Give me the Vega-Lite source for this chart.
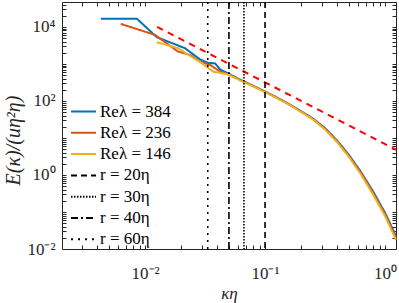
{
  "$schema": "https://vega.github.io/schema/vega-lite/v6.json",
  "width": 334,
  "height": 247,
  "autosize": {"type": "none"},
  "padding": {"left": 62, "top": 2, "right": 3, "bottom": 54},
  "background": "white",
  "config": {
    "view": {"stroke": null},
    "font": "Liberation Serif",
    "legend": {"labelFont": "Liberation Serif", "labelFontSize": 17, "labelColor": "#000000"},
    "axis": {
      "grid": false,
      "domainColor": "#262626",
      "domainWidth": 1,
      "tickColor": "#262626",
      "tickWidth": 1,
      "tickSize": -4,
      "labelColor": "#262626",
      "titleColor": "#262626",
      "labelFont": "Liberation Serif",
      "labelFontSize": 17,
      "titleFont": "Liberation Serif",
      "titleFontSize": 17,
      "titleFontWeight": "normal",
      "labelOverlap": false,
      "labelFlush": false
    }
  },
  "datasets": {
    "spectra": [
      {"k": 0.00428, "E": 16700, "s": "Reλ = 384"},
      {"k": 0.00853, "E": 16700, "s": "Reλ = 384"},
      {"k": 0.01252, "E": 5270, "s": "Reλ = 384"},
      {"k": 0.0215, "E": 2655, "s": "Reλ = 384"},
      {"k": 0.0287, "E": 1324, "s": "Reλ = 384"},
      {"k": 0.0335, "E": 1064, "s": "Reλ = 384"},
      {"k": 0.0383, "E": 1031, "s": "Reλ = 384"},
      {"k": 0.0422, "E": 710, "s": "Reλ = 384"},
      {"k": 0.0492, "E": 553, "s": "Reλ = 384"},
      {"k": 0.0631, "E": 366, "s": "Reλ = 384"},
      {"k": 0.0794, "E": 257, "s": "Reλ = 384"},
      {"k": 0.1, "E": 180, "s": "Reλ = 384"},
      {"k": 0.1259, "E": 123, "s": "Reλ = 384"},
      {"k": 0.1585, "E": 82.5, "s": "Reλ = 384"},
      {"k": 0.1995, "E": 52.8, "s": "Reλ = 384"},
      {"k": 0.2512, "E": 33.3, "s": "Reλ = 384"},
      {"k": 0.3162, "E": 18.4, "s": "Reλ = 384"},
      {"k": 0.3981, "E": 8.55, "s": "Reλ = 384"},
      {"k": 0.5012, "E": 3.45, "s": "Reλ = 384"},
      {"k": 0.631, "E": 1.2, "s": "Reλ = 384"},
      {"k": 0.794, "E": 0.362, "s": "Reλ = 384"},
      {"k": 1.0, "E": 0.0955, "s": "Reλ = 384"},
      {"k": 1.235, "E": 0.0224, "s": "Reλ = 384"},

      {"k": 0.00627, "E": 12050, "s": "Reλ = 236"},
      {"k": 0.0121, "E": 6080, "s": "Reλ = 236"},
      {"k": 0.01884, "E": 2148, "s": "Reλ = 236"},
      {"k": 0.0237, "E": 1750, "s": "Reλ = 236"},
      {"k": 0.0287, "E": 1153, "s": "Reλ = 236"},
      {"k": 0.0349, "E": 940, "s": "Reλ = 236"},
      {"k": 0.0422, "E": 620, "s": "Reλ = 236"},
      {"k": 0.0482, "E": 537, "s": "Reλ = 236"},
      {"k": 0.0631, "E": 358, "s": "Reλ = 236"},
      {"k": 0.0794, "E": 252, "s": "Reλ = 236"},
      {"k": 0.1, "E": 177, "s": "Reλ = 236"},
      {"k": 0.1259, "E": 121, "s": "Reλ = 236"},
      {"k": 0.1585, "E": 80.7, "s": "Reλ = 236"},
      {"k": 0.1995, "E": 51.5, "s": "Reλ = 236"},
      {"k": 0.2512, "E": 32.4, "s": "Reλ = 236"},
      {"k": 0.3162, "E": 17.6, "s": "Reλ = 236"},
      {"k": 0.3981, "E": 8.13, "s": "Reλ = 236"},
      {"k": 0.5012, "E": 3.24, "s": "Reλ = 236"},
      {"k": 0.631, "E": 1.12, "s": "Reλ = 236"},
      {"k": 0.794, "E": 0.331, "s": "Reλ = 236"},
      {"k": 1.0, "E": 0.0871, "s": "Reλ = 236"},
      {"k": 1.235, "E": 0.020, "s": "Reλ = 236"},

      {"k": 0.01252, "E": 3857, "s": "Reλ = 146"},
      {"k": 0.01884, "E": 2655, "s": "Reλ = 146"},
      {"k": 0.0237, "E": 1644, "s": "Reλ = 146"},
      {"k": 0.0287, "E": 1133, "s": "Reλ = 146"},
      {"k": 0.0369, "E": 620, "s": "Reλ = 146"},
      {"k": 0.0492, "E": 522, "s": "Reλ = 146"},
      {"k": 0.0631, "E": 350, "s": "Reλ = 146"},
      {"k": 0.0794, "E": 248, "s": "Reλ = 146"},
      {"k": 0.1, "E": 174, "s": "Reλ = 146"},
      {"k": 0.1259, "E": 119, "s": "Reλ = 146"},
      {"k": 0.1585, "E": 79.5, "s": "Reλ = 146"},
      {"k": 0.1995, "E": 50.5, "s": "Reλ = 146"},
      {"k": 0.2512, "E": 31.6, "s": "Reλ = 146"},
      {"k": 0.3162, "E": 16.9, "s": "Reλ = 146"},
      {"k": 0.3981, "E": 7.75, "s": "Reλ = 146"},
      {"k": 0.5012, "E": 3.05, "s": "Reλ = 146"},
      {"k": 0.631, "E": 1.03, "s": "Reλ = 146"},
      {"k": 0.794, "E": 0.30, "s": "Reλ = 146"},
      {"k": 1.0, "E": 0.078, "s": "Reλ = 146"},
      {"k": 1.235, "E": 0.0178, "s": "Reλ = 146"}
    ],
    "slope": [
      {"k": 0.0126, "E": 10000},
      {"k": 1.235, "E": 4.8}
    ],
    "rules": [
      {"k": 0.1, "s": "r = 20η"},
      {"k": 0.0667, "s": "r = 30η"},
      {"k": 0.05, "s": "r = 40η"},
      {"k": 0.0333, "s": "r = 60η"}
    ]
  },
  "layer": [
    {
      "data": {"name": "spectra"},
      "mark": {"type": "line", "strokeWidth": 2},
      "encoding": {
        "x": {
          "field": "k", "type": "quantitative",
          "scale": {"type": "log", "domain": [0.00203, 1.235], "nice": false},
          "axis": {
            "orient": "bottom",
            "values": [0.003,0.004,0.005,0.006,0.007,0.008,0.009,0.01,0.02,0.03,0.04,0.05,0.06,0.07,0.08,0.09,0.1,0.2,0.3,0.4,0.5,0.6,0.7,0.8,0.9,1],
            "labelExpr": "datum.value == 0.01 ? '10⁻²' : datum.value == 0.1 ? '10⁻¹' : datum.value == 1 ? '10⁰' : ''",
            "labelBaseline": "top",
            "labelPadding": 20,
            "title": "κη",
            "titleFontStyle": "italic",
            "titleX": 167,
            "titleY": 44,
            "titleAlign": "center",
            "titleBaseline": "middle"
          }
        },
        "y": {
          "field": "E", "type": "quantitative",
          "scale": {"type": "log", "domain": [0.01, 47000], "nice": false},
          "axis": {
            "orient": "left",
            "values": [0.01,0.02,0.03,0.04,0.05,0.06,0.07,0.08,0.09,0.1,0.2,0.3,0.4,0.5,0.6,0.7,0.8,0.9,1,2,3,4,5,6,7,8,9,10,20,30,40,50,60,70,80,90,100,200,300,400,500,600,700,800,900,1000,2000,3000,4000,5000,6000,7000,8000,9000,10000,20000,30000,40000],
            "labelExpr": "datum.value == 0.01 ? '10⁻²' : datum.value == 1 ? '10⁰' : datum.value == 100 ? '10²' : datum.value == 10000 ? '10⁴' : ''",
            "labelPadding": 11,
            "labelBaseline": "middle",
            "title": "E(κ)/(uη²η)",
            "titleFontStyle": "italic",
            "titleFontSize": 20,
            "titleAngle": -90,
            "titleX": -49,
            "titleY": 138,
            "titleAlign": "center",
            "titleBaseline": "middle"
          }
        },
        "color": {
          "field": "s", "type": "nominal",
          "scale": {
            "domain": ["Reλ = 384", "Reλ = 236", "Reλ = 146", "r = 20η", "r = 30η", "r = 40η", "r = 60η"],
            "range": ["#0072BD", "#D95319", "#EDB120", "#000000", "#000000", "#000000", "#000000"]
          },
          "legend": {
            "title": null, "orient": "none", "legendX": 8, "legendY": 101,
            "symbolType": "stroke", "symbolSize": 625, "symbolStrokeWidth": 2,
            "labelFont": "Liberation Serif", "labelFontSize": 17, "labelColor": "#000000",
            "labelOffset": 3, "clipHeight": 17, "rowPadding": 3.3, "padding": 0
          }
        },
        "strokeDash": {
          "field": "s", "type": "nominal",
          "scale": {
            "domain": ["Reλ = 384", "Reλ = 236", "Reλ = 146", "r = 20η", "r = 30η", "r = 40η", "r = 60η"],
            "range": [[1, 0], [1, 0], [1, 0], [6, 4], [1.5, 1.5], [7, 3, 2, 3], [2, 5]]
          },
          "legend": {
            "title": null, "orient": "none", "legendX": 8, "legendY": 101,
            "symbolType": "stroke", "symbolSize": 625, "symbolStrokeWidth": 2,
            "labelFont": "Liberation Serif", "labelFontSize": 17, "labelColor": "#000000",
            "labelOffset": 3, "clipHeight": 17, "rowPadding": 3.3, "padding": 0
          }
        }
      }
    },
    {
      "data": {"name": "slope"},
      "mark": {"type": "line", "strokeWidth": 2, "color": "#FF0000", "strokeDash": [6.5, 5.5]},
      "encoding": {
        "x": {
          "field": "k", "type": "quantitative",
          "scale": {"type": "log", "domain": [0.00203, 1.235], "nice": false},
          "axis": {
            "orient": "top",
            "values": [0.003,0.004,0.005,0.006,0.007,0.008,0.009,0.01,0.02,0.03,0.04,0.05,0.06,0.07,0.08,0.09,0.1,0.2,0.3,0.4,0.5,0.6,0.7,0.8,0.9,1],
            "labels": false,
            "title": null
          }
        },
        "y": {
          "field": "E", "type": "quantitative",
          "scale": {"type": "log", "domain": [0.01, 47000], "nice": false},
          "axis": {
            "orient": "right",
            "values": [0.01,0.02,0.03,0.04,0.05,0.06,0.07,0.08,0.09,0.1,0.2,0.3,0.4,0.5,0.6,0.7,0.8,0.9,1,2,3,4,5,6,7,8,9,10,20,30,40,50,60,70,80,90,100,200,300,400,500,600,700,800,900,1000,2000,3000,4000,5000,6000,7000,8000,9000,10000,20000,30000,40000],
            "labels": false,
            "title": null
          }
        }
      }
    },
    {
      "data": {"name": "rules"},
      "mark": {"type": "rule", "strokeWidth": 1.6},
      "encoding": {
        "x": {
          "field": "k", "type": "quantitative",
          "scale": {"type": "log", "domain": [0.00203, 1.235], "nice": false},
          "axis": null
        },
        "color": {"field": "s", "type": "nominal"},
        "strokeDash": {"field": "s", "type": "nominal"}
      }
    }
  ]
}
